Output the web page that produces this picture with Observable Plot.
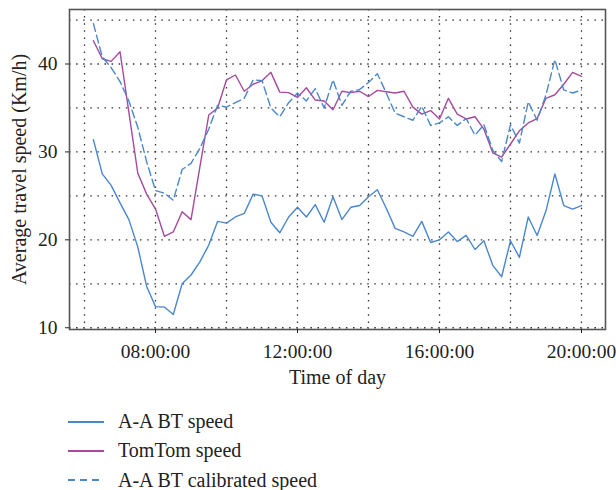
<!DOCTYPE html>
<html><head><meta charset="utf-8">
<script src="https://cdn.jsdelivr.net/npm/d3@7"></script>
<script src="https://cdn.jsdelivr.net/npm/@observablehq/plot@0.6"></script>
<style>
body{margin:0;background:#fff;}
#wrap{width:616px;height:490px;position:relative;font-family:"Liberation Serif",serif;color:#222;}
#wrap > svg{position:absolute;left:0;top:0;}
.legend{position:absolute;left:68px;top:407px;}
.row{display:flex;align-items:center;height:29.3px;font-size:20px;white-space:nowrap;}
.row svg{margin-right:14px;display:block;}
</style></head><body><div id="wrap"></div>
<script>
const times = ["06:15","06:30","06:45","07:00","07:15","07:30","07:45","08:00","08:15","08:30","08:45","09:00","09:15","09:30",
"09:45","10:00","10:15","10:30","10:45","11:00","11:15","11:30","11:45","12:00","12:15","12:30","12:45","13:00",
"13:15","13:30","13:45","14:00","14:15","14:30","14:45","15:00","15:15","15:30","15:45","16:00","16:15",
"16:30","16:45","17:00","17:15","17:30","17:45","18:00","18:15","18:30","18:45","19:00","19:15","19:30","19:45","20:00"];
const btSpeed = [31.4,27.5,26.2,24.2,22.3,19.2,14.7,12.4,12.35,11.5,15.0,16.0,17.5,19.4,
22.1,21.9,22.6,23.0,25.2,25.0,22.0,20.8,22.6,23.7,22.6,24.0,22.0,24.9,
22.3,23.7,23.9,24.9,25.7,23.6,21.3,20.9,20.4,22.1,19.7,20.0,20.9,
19.8,20.5,18.9,19.9,17.1,15.8,19.9,18.0,22.6,20.5,23.3,27.5,23.9,23.5,23.9];
const tomtomSpeed = [42.65,40.6,40.3,41.4,34.5,27.6,25.2,23.5,20.4,20.9,23.2,22.3,28.3,34.2,
35.0,38.2,38.75,36.9,37.7,38.1,39.05,36.8,36.75,36.2,37.3,35.9,35.8,34.8,
36.9,36.75,36.9,36.3,37.0,36.85,36.7,36.9,35.1,34.3,34.7,33.75,36.1,
34.3,33.75,34.0,32.6,29.9,29.4,30.9,32.4,33.3,33.8,36.1,36.5,37.7,39.05,38.6];
const btCalibrated = [44.6,40.8,39.6,38.0,35.8,32.8,28.9,25.6,25.3,24.5,28.0,28.7,30.4,32.6,
35.3,35.1,35.6,36.1,38.2,38.1,35.0,34.0,35.6,36.7,35.8,37.2,35.0,38.2,
35.3,36.9,37.1,37.9,38.9,36.7,34.4,34.0,33.6,35.2,33.0,33.3,34.0,
33.0,33.8,31.9,33.1,30.2,28.9,33.1,31.0,35.7,33.6,36.5,40.5,37.05,36.7,37.05];

const seriesNames = ["A-A BT speed","TomTom speed","A-A BT calibrated speed"];
const seriesColors = ["#4a87cc","#a54a9e","#4a87cc"];
const seriesDash = [null,null,"8,4"];
const xTickValues = [8,12,16,20];
const xTickLabels = ["08:00:00","12:00:00","16:00:00","20:00:00"];
const yTickValues = [10,20,30,40];
const xGridValues = [6,8,10,12,14,16,18,20];
const yGridValues = [10,15,20,25,30,35,40,45];
const xTitle = "Time of day";
const yTitle = "Average travel speed (Km/h)";

const toHours = s => { const [h,m] = s.split(":").map(Number); return h + m/60; };
const allSeries = [btSpeed, tomtomSpeed, btCalibrated];
const tables = allSeries.map(vals => times.map((t,i) => ({t: toHours(t), v: vals[i]})));

const gridStyle = {stroke:"#333", strokeOpacity:1, strokeDasharray:"1.5,5.6", strokeWidth:1.3};

const chart = Plot.plot({
  width: 616, height: 407,
  marginLeft: 69, marginRight: 11, marginTop: 9, marginBottom: 78,
  style: {fontFamily: "'Liberation Serif', serif", fontSize: "19.5px", color: "#222", background: "#fff"},
  x: {domain: [5.577, 20.676]},
  y: {domain: [9.8, 46.2]},
  marks: [
    Plot.gridX(xGridValues, gridStyle),
    Plot.gridY(yGridValues, gridStyle),
    ...tables.map((tbl, k) => Plot.line(tbl, {x: "t", y: "v", stroke: seriesColors[k], strokeWidth: 1.4,
      strokeDasharray: seriesDash[k] || undefined})),
    Plot.frame({stroke: "#555", strokeWidth: 1.6}),
    Plot.axisX(xTickValues, {tickSize: 4, tickPadding: 10.5, label: null,
      tickFormat: d => xTickLabels[xTickValues.indexOf(d)]}),
    Plot.axisY(yTickValues, {tickSize: 4, tickPadding: 8, label: null}),
    Plot.text([xTitle], {text: d => d, frameAnchor: "bottom", dy: 54, lineAnchor: "bottom", textAnchor: "middle", fontSize: 20}),
    Plot.text([yTitle], {text: d => d, frameAnchor: "left", rotate: -90, dx: -58, lineAnchor: "top", textAnchor: "middle", fontSize: 20})
  ]
});
const wrap = document.getElementById("wrap");
wrap.appendChild(chart);

const legend = document.createElement("div");
legend.className = "legend";
seriesNames.forEach((name, k) => {
  const row = document.createElement("div");
  row.className = "row";
  const dash = seriesDash[k] ? `stroke-dasharray="7,5"` : "";
  row.innerHTML = `<svg width="36" height="6"><line x1="0" y1="3" x2="36" y2="3" stroke="${seriesColors[k]}" stroke-width="2" ${dash}/></svg><span>${name}</span>`;
  legend.appendChild(row);
});
wrap.appendChild(legend);
</script>
</body></html>
